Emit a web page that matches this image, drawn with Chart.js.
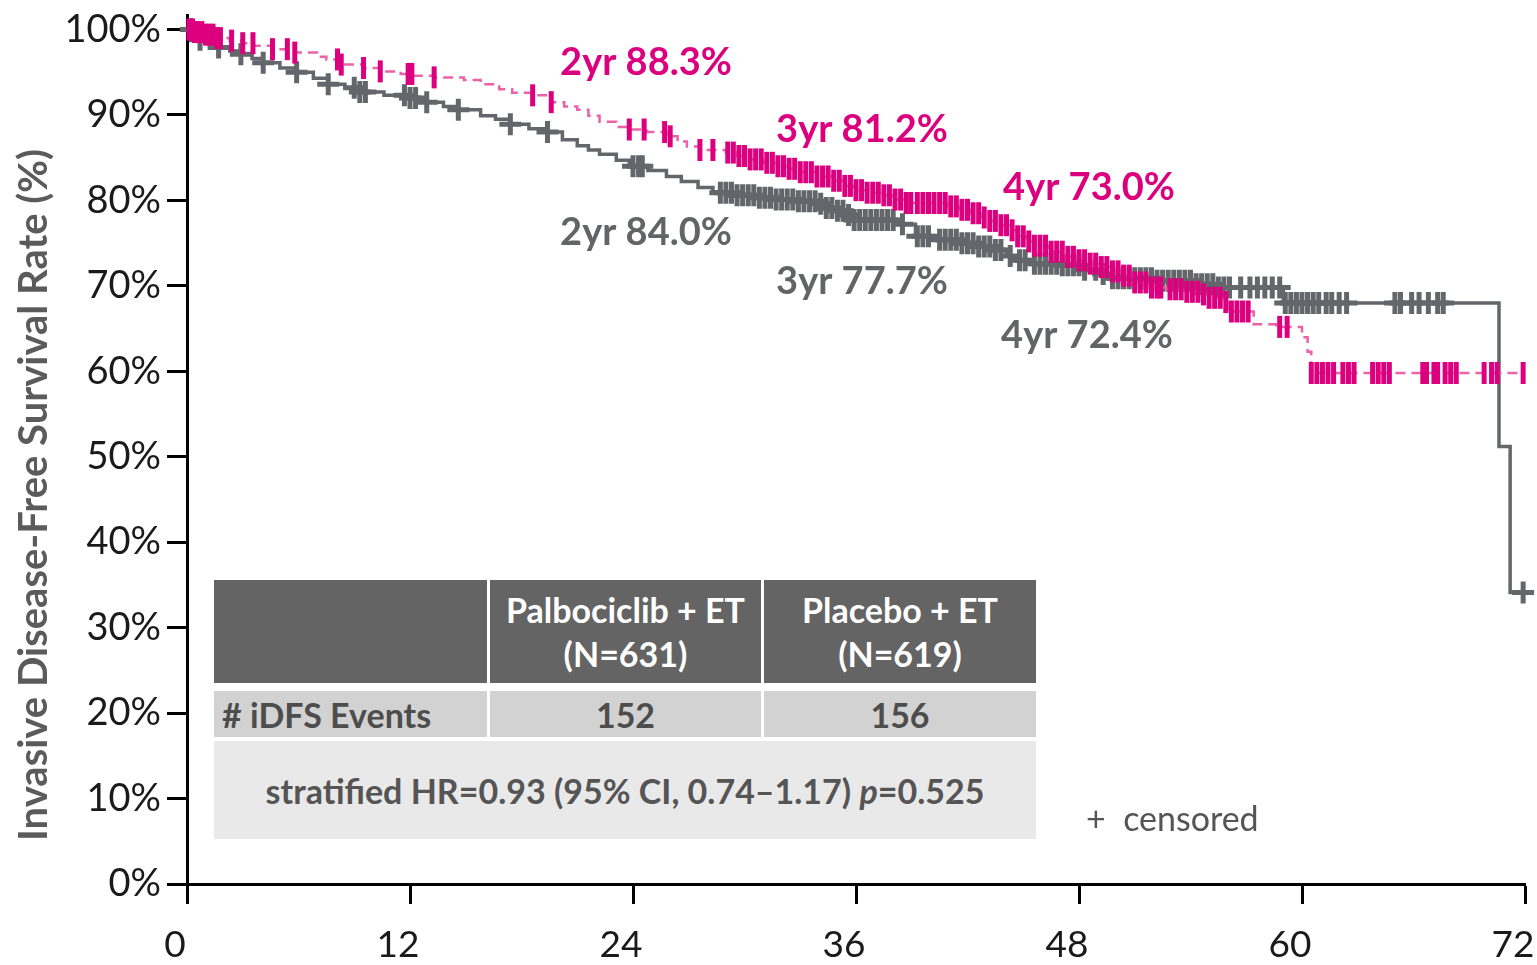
<!DOCTYPE html>
<html>
<head>
<meta charset="utf-8">
<script src="https://cdn.jsdelivr.net/npm/chart.js@4.4.1/dist/chart.umd.min.js"></script>
<style>
  html, body { margin: 0; padding: 0; background: #fff; }
  #wrap { position: relative; width: 1537px; height: 965px; overflow: hidden; font-family: Lato, "Open Sans", sans-serif; }
  #c { position: absolute; left: 0; top: 0; }
  .cell { position: absolute; box-sizing: border-box; display: flex; align-items: center; justify-content: center; font-weight: 700; font-size: 34px; text-align: center; }
  .hd { background: #646464; color: #fff; line-height: 44px; }
  .r2 { background: #d2d2d2; color: #4d4d4d; }
  .r3 { background: #e9e9e9; color: #555; }
  #censored { position: absolute; left: 1086px; top: 796px; font-size: 34px; color: #555; white-space: pre; line-height: 44px; }
</style>
</head>
<body>
<div id="wrap">
  <canvas id="c" width="1537" height="965"></canvas>

  <div class="cell hd" style="left:214px;top:580px;width:273px;height:103px;"></div>
  <div class="cell hd" style="left:490px;top:580px;width:271px;height:103px;">Palbociclib + ET<br>(N=631)</div>
  <div class="cell hd" style="left:764px;top:580px;width:272px;height:103px;">Placebo + ET<br>(N=619)</div>

  <div class="cell r2" style="left:214px;top:691px;width:273px;height:46px;justify-content:flex-start;padding-left:8px;"># iDFS Events</div>
  <div class="cell r2" style="left:490px;top:691px;width:271px;height:46px;">152</div>
  <div class="cell r2" style="left:764px;top:691px;width:272px;height:46px;">156</div>

  <div class="cell r3" style="left:214px;top:741px;width:822px;height:98px;">stratified HR=0.93 (95% CI, 0.74–1.17)&nbsp;<i>p</i>=0.525</div>

  <div id="censored">+  censored</div>
</div>

<script>
// Kaplan–Meier step points: [month, invasive disease-free survival %]
const palboCurve = [
  [0,100],[0.4,99.7],[1.0,99.4],[1.6,99.0],[2.3,98.7],[3.0,98.4],[3.6,98.1],[4.6,97.7],
  [5.8,97.3],[7.0,96.8],[7.5,96.5],[8.2,95.9],[9.5,95.5],[10.4,95.1],[11.5,94.8],[12.2,94.6],
  [13.3,94.4],[14.9,94.1],[15.8,93.6],[16.8,93.0],[17.5,92.6],[18.6,92.3],[19.6,91.5],[20.3,91.0],
  [21.0,90.6],[21.6,89.9],[22.2,89.2],[23.1,88.6],[23.7,88.3],[24.75,88.0],[25.8,87.5],[26.4,86.9],
  [26.9,86.3],[27.6,85.9],[29.0,85.6],[29.6,85.2],[30.3,84.8],[31.0,84.4],[31.75,84.0],[32.4,83.7],
  [33.0,83.3],[33.9,82.8],[34.76,82.3],[35.4,81.7],[35.9,81.2],[36.6,80.9],[37.3,80.6],[38.0,80.1],
  [38.7,79.7],[40.9,79.3],[41.6,78.9],[42.2,78.5],[42.7,78.0],[43.2,77.6],[43.75,77.1],[44.2,76.5],
  [44.7,75.8],[45.2,75.2],[45.6,74.7],[46.4,74.0],[47.2,73.4],[47.8,73.0],[48.6,72.6],[49.1,72.2],
  [49.7,71.7],[50.2,71.2],[50.9,70.4],[51.8,69.8],[52.7,69.6],[53.6,69.3],[54.5,69.0],[55.0,68.6],
  [55.7,68.1],[56.0,67.0],[57.4,65.5],[58.6,65.2],[60.0,64.0],[60.3,62.3],[60.5,59.8],[72,59.8]
];

const placeboCurve = [
  [0,100],[0.3,99.5],[0.7,98.8],[1.2,98.3],[1.7,97.9],[2.3,97.5],[2.9,97.1],[3.5,96.6],
  [4.1,96.1],[5.0,95.5],[5.9,95.0],[6.8,94.3],[7.6,93.6],[8.5,93.2],[9.3,92.7],[10.6,92.3],
  [12.0,92.0],[12.9,91.5],[13.8,91.0],[14.6,90.6],[15.8,89.9],[16.6,89.5],[17.4,88.9],[18.4,88.4],
  [19.4,88.0],[20.2,87.1],[21.0,86.4],[21.6,85.9],[22.2,85.4],[23.1,84.7],[23.8,84.0],[24.8,83.5],
  [25.8,82.8],[26.6,82.2],[27.5,81.5],[28.3,80.9],[29.6,80.6],[30.8,80.3],[31.7,80.1],[32.8,79.9],
  [33.9,79.6],[34.4,79.1],[34.8,78.8],[35.4,78.3],[35.9,77.7],[38.2,77.2],[39.2,75.8],[40.4,75.4],
  [41.5,75.0],[42.5,74.6],[43.4,74.2],[44.1,73.5],[44.8,73.0],[45.5,72.6],[47.0,72.4],[48.3,71.9],
  [49.0,71.4],[49.8,70.9],[52.0,70.6],[54.1,70.2],[55.3,69.8],[59.0,68.0],[70.6,51.2],[71.2,34.1],
  [71.9,34.1]
];

// Censoring times (months)
const palboCensor = [
  0.1,0.2,0.3,0.4,0.6,0.8,1.0,1.2,1.4,1.6,1.8,2.4,3.0,3.55,4.6,5.4,5.8,8.1,8.3,9.5,10.4,11.9,12.1,
  13.3,18.6,19.6,23.8,24.6,25.7,26.0,27.6,28.3,29.1,
  29.4,29.7,30.0,30.3,30.6,30.9,31.2,31.5,31.8,32.1,32.4,32.7,33.0,33.3,33.6,33.9,34.2,34.5,34.8,
  35.1,35.4,35.7,36.0,36.3,36.6,36.9,37.2,37.5,37.8,38.1,38.4,38.7,38.95,
  39.3,39.6,39.9,40.2,40.5,40.8,41.1,41.4,41.7,42.0,42.3,42.6,42.9,43.2,43.5,43.8,44.1,44.4,44.7,
  45.0,45.3,45.6,45.9,46.2,46.5,46.8,47.1,47.4,47.7,48.0,48.3,48.6,48.9,49.2,49.5,49.8,50.1,50.4,
  50.7,51.0,51.3,51.6,51.9,52.2,52.4,52.9,53.2,53.5,53.8,54.1,54.4,54.7,55.0,55.3,55.6,55.9,56.2,
  56.5,56.8,57.1,58.8,59.2,60.5,60.8,61.1,61.4,61.7,62.2,62.5,62.8,63.8,64.1,64.4,64.7,
  66.5,66.7,67.1,67.3,67.7,68.0,68.3,69.8,70.2,70.5,71.9
];

const placeboCensor = [
  0.2,0.7,1.7,2.9,4.1,5.9,7.6,9.0,9.3,9.6,11.7,12.0,12.3,12.9,14.6,17.4,19.4,24.0,24.3,24.5,
  28.7,29.0,29.3,29.6,29.9,30.2,30.5,30.8,31.1,31.4,31.7,32.0,32.3,32.6,32.9,33.2,33.5,33.8,34.1,
  34.4,34.7,35.0,35.3,35.6,35.9,36.2,36.5,36.8,37.1,37.4,37.7,38.0,38.5,39.3,39.6,39.9,
  40.5,40.8,41.1,41.4,41.7,42.0,42.3,42.6,42.9,43.2,43.5,43.8,44.3,44.8,45.1,
  45.6,45.9,46.2,46.5,46.8,47.1,47.4,47.7,48.0,48.3,48.9,49.3,
  49.8,50.1,50.4,50.7,51.0,51.3,51.6,51.9,52.2,52.5,52.8,53.1,53.4,53.7,54.0,54.3,54.6,54.9,
  55.2,55.5,55.8,56.1,56.7,57.2,57.6,58.0,58.4,58.8,59.1,59.4,59.7,60.0,60.3,60.6,60.9,
  61.3,61.6,62.0,62.4,65.0,65.3,65.9,66.3,66.8,67.3,67.6,71.9
];

// Landmark estimates
const milestoneMonths = [24, 36, 48];
const milestoneNames = ['2yr', '3yr', '4yr'];
const palboMilestones = [88.3, 81.2, 73.0];
const placeboMilestones = [84.0, 77.7, 72.4];

// Axis ticks
const xTickValues = [0, 12, 24, 36, 48, 60, 72];
const yTickValues = [0, 10, 20, 30, 40, 50, 60, 70, 80, 90, 100];

const MAGENTA = '#dc007f';
const MAGENTA_LINE = '#ea62a8';
const GREY = '#63666a';
const FONT = 'Lato, "Open Sans", sans-serif';

function survivalAt(curve, t) {
  let v = curve[0][1];
  for (const [tm, s] of curve) {
    if (tm <= t) v = s; else break;
  }
  return v;
}

const toPoints = curve => curve.map(([x, y]) => ({ x, y }));
const censorPoints = (times, curve) => times.map(t => ({ x: t, y: survivalAt(curve, t) }));

// Landmark text labels placed relative to their estimate on the curve (pixel nudges)
const labelNudge = {
  palbo:   { dx: [13, 6, 10], dy: [-67, -60, -72] },
  placebo: { dx: [13, 6, 8],  dy: [67, 62, 70] }
};

const landmarkLabels = {
  id: 'landmarkLabels',
  afterDatasetsDraw(chart) {
    const { ctx, scales: { x, y } } = chart;
    ctx.save();
    ctx.font = 'bold 38px ' + FONT;
    ctx.textAlign = 'center';
    ctx.textBaseline = 'middle';
    milestoneMonths.forEach((m, i) => {
      const px = x.getPixelForValue(m);
      ctx.fillStyle = MAGENTA;
      ctx.fillText(milestoneNames[i] + ' ' + palboMilestones[i].toFixed(1) + '%',
        px + labelNudge.palbo.dx[i], y.getPixelForValue(palboMilestones[i]) + labelNudge.palbo.dy[i]);
      ctx.fillStyle = '#636466';
      ctx.fillText(milestoneNames[i] + ' ' + placeboMilestones[i].toFixed(1) + '%',
        px + labelNudge.placebo.dx[i], y.getPixelForValue(placeboMilestones[i]) + labelNudge.placebo.dy[i]);
    });
    ctx.restore();
  }
};

const yTitle = {
  id: 'yTitle',
  afterDraw(chart) {
    const { ctx } = chart;
    ctx.save();
    ctx.translate(34, 495);
    ctx.rotate(-Math.PI / 2);
    ctx.font = 'bold 40px ' + FONT;
    ctx.fillStyle = '#5b5b5b';
    ctx.textAlign = 'center';
    ctx.textBaseline = 'middle';
    ctx.fillText('Invasive Disease-Free Survival Rate (%)', 0, 0);
    ctx.restore();
  }
};

new Chart(document.getElementById('c'), {
  type: 'line',
  data: {
    datasets: [
      {
        label: 'Palbociclib + ET censored',
        type: 'scatter',
        data: censorPoints(palboCensor, palboCurve),
        showLine: false,
        pointStyle: 'line',
        rotation: 90,
        pointRadius: 11,
        pointBorderWidth: 5,
        borderColor: MAGENTA,
        backgroundColor: MAGENTA,
        clip: false
      },
      {
        label: 'Palbociclib + ET',
        data: toPoints(palboCurve),
        stepped: 'before',
        borderColor: MAGENTA_LINE,
        borderWidth: 2.5,
        borderDash: [10, 6],
        pointRadius: 0,
        fill: false
      },
      {
        label: 'Placebo + ET censored',
        type: 'scatter',
        data: censorPoints(placeboCensor, placeboCurve),
        showLine: false,
        pointStyle: 'cross',
        pointRadius: 11,
        pointBorderWidth: 5,
        borderColor: GREY,
        backgroundColor: GREY,
        clip: false
      },
      {
        label: 'Placebo + ET',
        data: toPoints(placeboCurve),
        stepped: 'before',
        borderColor: GREY,
        borderWidth: 3.5,
        pointRadius: 0,
        fill: false
      }
    ]
  },
  options: {
    responsive: false,
    animation: false,
    events: [],
    layout: { autoPadding: false, padding: { top: 15, right: 12, left: 0, bottom: 0 } },
    plugins: { legend: { display: false }, tooltip: { enabled: false } },
    scales: {
      x: {
        type: 'linear',
        min: 0,
        max: 72,
        afterBuildTicks: s => { s.ticks = xTickValues.map(v => ({ value: v })); },
        ticks: {
          font: { family: FONT, size: 37 },
          color: '#1a1a1a',
          padding: 19,
          labelOffset: -12,
          maxRotation: 0,
          autoSkip: false
        },
        grid: { drawOnChartArea: false, tickLength: 20, tickWidth: 3, tickColor: '#000' },
        border: { color: '#000', width: 3 },
        afterFit: s => { s.height = 81; s.paddingLeft = 0; s.paddingRight = 0; }
      },
      y: {
        type: 'linear',
        min: 0,
        max: 101.7,
        afterBuildTicks: s => { s.ticks = yTickValues.map(v => ({ value: v })); },
        ticks: {
          font: { family: FONT, size: 38 },
          color: '#1a1a1a',
          padding: 6,
          callback: v => v + '%'
        },
        grid: { drawOnChartArea: false, tickLength: 20, tickWidth: 3, tickColor: '#000' },
        border: { color: '#000', width: 3 },
        afterFit: s => { s.width = 187; s.paddingTop = 0; s.paddingBottom = 0; }
      }
    }
  },
  plugins: [landmarkLabels, yTitle]
});
</script>
</body>
</html>
